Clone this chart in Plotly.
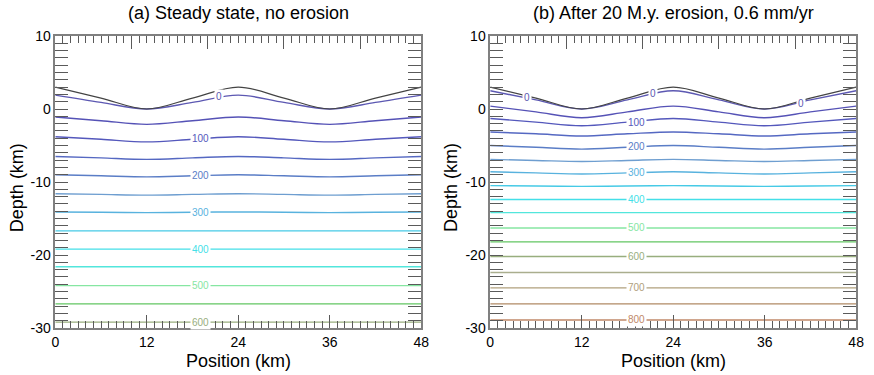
"""
Steady-state vs eroded geotherms below a sinusoidal topography.
"""

import plotly.graph_objects as go

FONT = "Liberation Sans, Arial, sans-serif"
FRAME = "#808080"
TICK = "#5a5a5a"

X_POS = [0, 6, 12, 18, 24, 30, 36, 42, 48]
SURFACE = [3.0, 1.5, 0.0, 1.5, 3.0, 1.5, 0.0, 1.5, 3.0]

Y_TICKS = [-30, -20, -10, 0, 10]
Y_TICK_TEXT = ["-30", "-20", "-10", "0", "10"]

LEVELS = [0, 50, 100, 150, 200, 250, 300, 350, 400,
          450, 500, 550, 600, 650, 700, 750, 800]
LEVEL_COLORS = [
    "#5c58b2", "#5552b6", "#5458bc", "#5568c2", "#5a7dc6", "#6e9ed0",
    "#58b2de", "#46cae6", "#44dfe8", "#52e6dc", "#86e6a2", "#62c662",
    "#98ae7e", "#aaae8e", "#b0a07c", "#b08a64", "#c08868",
]

# (a) steady state: depth (km) of each isotherm at X_POS
A_DEPTHS = [
    [1.9, 0.9, 0.0, 0.9, 1.9, 0.9, 0.0, 0.9, 1.9],
    [-1.1, -1.6, -2.1, -1.6, -1.1, -1.6, -2.1, -1.6, -1.1],
    [-3.8, -4.15, -4.5, -4.15, -3.8, -4.15, -4.5, -4.15, -3.8],
    [-6.5, -6.7, -6.9, -6.7, -6.5, -6.7, -6.9, -6.7, -6.5],
    [-9.0, -9.15, -9.3, -9.15, -9.0, -9.15, -9.3, -9.15, -9.0],
    [-11.6, -11.7, -11.8, -11.7, -11.6, -11.7, -11.8, -11.7, -11.6],
    [-14.1, -14.15, -14.2, -14.15, -14.1, -14.15, -14.2, -14.15, -14.1],
    [-16.7, -16.7, -16.7, -16.7, -16.7, -16.7, -16.7, -16.7, -16.7],
    [-19.2, -19.2, -19.2, -19.2, -19.2, -19.2, -19.2, -19.2, -19.2],
    [-21.6, -21.6, -21.6, -21.6, -21.6, -21.6, -21.6, -21.6, -21.6],
    [-24.2, -24.2, -24.2, -24.2, -24.2, -24.2, -24.2, -24.2, -24.2],
    [-26.7, -26.7, -26.7, -26.7, -26.7, -26.7, -26.7, -26.7, -26.7],
    [-29.2, -29.2, -29.2, -29.2, -29.2, -29.2, -29.2, -29.2, -29.2],
]
A_LABELS = [0, 100, 200, 300, 400, 500, 600]
A_LABEL_X = [21.5, 19.1, 19.1, 19.1, 19.1, 19.1, 19.1]
A_LABEL_Y = [1.7, -4.05, -9.15, -14.15, -19.2, -24.2, -29.2]

# (b) after 20 M.y. of erosion at 0.6 mm/yr
B_DEPTHS = [
    [2.5, 1.25, 0.0, 1.25, 2.5, 1.25, 0.0, 1.25, 2.5],
    [0.4, -0.4, -1.2, -0.4, 0.4, -0.4, -1.2, -0.4, 0.4],
    [-1.3, -1.8, -2.3, -1.8, -1.3, -1.8, -2.3, -1.8, -1.3],
    [-3.15, -3.4, -3.7, -3.4, -3.15, -3.4, -3.7, -3.4, -3.15],
    [-5.0, -5.25, -5.5, -5.25, -5.0, -5.25, -5.5, -5.25, -5.0],
    [-6.9, -7.05, -7.2, -7.05, -6.9, -7.05, -7.2, -7.05, -6.9],
    [-8.6, -8.75, -8.9, -8.75, -8.6, -8.75, -8.9, -8.75, -8.6],
    [-10.5, -10.55, -10.6, -10.55, -10.5, -10.55, -10.6, -10.55, -10.5],
    [-12.4, -12.4, -12.4, -12.4, -12.4, -12.4, -12.4, -12.4, -12.4],
    [-14.2, -14.2, -14.2, -14.2, -14.2, -14.2, -14.2, -14.2, -14.2],
    [-16.3, -16.3, -16.3, -16.3, -16.3, -16.3, -16.3, -16.3, -16.3],
    [-18.2, -18.2, -18.2, -18.2, -18.2, -18.2, -18.2, -18.2, -18.2],
    [-20.2, -20.2, -20.2, -20.2, -20.2, -20.2, -20.2, -20.2, -20.2],
    [-22.4, -22.4, -22.4, -22.4, -22.4, -22.4, -22.4, -22.4, -22.4],
    [-24.5, -24.5, -24.5, -24.5, -24.5, -24.5, -24.5, -24.5, -24.5],
    [-26.7, -26.7, -26.7, -26.7, -26.7, -26.7, -26.7, -26.7, -26.7],
    [-28.9, -28.9, -28.9, -28.9, -28.9, -28.9, -28.9, -28.9, -28.9],
]
B_LABELS = [0, 0, 0, 100, 200, 300, 400, 500, 600, 700, 800]
B_LABEL_X = [4.8, 21.4, 40.8, 19.2, 19.2, 19.2, 19.2, 19.2, 19.2, 19.2, 19.2]
B_LABEL_Y = [1.55, 2.15, 0.75, -1.85, -5.2, -8.75, -12.4, -16.3, -20.2, -24.5, -28.9]

PANELS = [
    ("x", "y", "x3", A_DEPTHS, A_LABELS, A_LABEL_X, A_LABEL_Y),
    ("x2", "y2", "x4", B_DEPTHS, B_LABELS, B_LABEL_X, B_LABEL_Y),
]

fig = go.Figure()
annotations = []

for xa, ya, xtop, depths, labels, lab_x, lab_y in PANELS:
    for i, row in enumerate(depths):
        fig.add_trace(go.Scatter(
            x=X_POS, y=row, xaxis=xa, yaxis=ya, mode="lines",
            line=dict(color=LEVEL_COLORS[i], width=1.4, shape="spline"),
            hoverinfo="skip", showlegend=False,
        ))
    # surface drawn on the top axis so that axis gets rendered
    fig.add_trace(go.Scatter(
        x=X_POS, y=SURFACE, xaxis=xtop, yaxis=ya, mode="lines",
        line=dict(color="#444444", width=1.2, shape="spline"),
        hoverinfo="skip", showlegend=False,
    ))
    for lev, lx, ly in zip(labels, lab_x, lab_y):
        annotations.append(dict(
            text=str(lev), x=lx, y=ly, xref=xa, yref=ya, showarrow=False,
            font=dict(family=FONT, size=10, color=LEVEL_COLORS[LEVELS.index(lev)]),
            bgcolor="white", borderpad=1,
        ))

# panel titles and axis titles
for xc, title in [(237.5 / 874, "(a) Steady state, no erosion"),
                  (678.5 / 874, "(b) After 20 M.y. erosion, 0.6 mm/yr")]:
    annotations.append(dict(text=title, x=xc, y=1.079, xref="paper", yref="paper",
                            showarrow=False, xanchor="center", yanchor="middle",
                            font=dict(family=FONT, size=18, color="black")))
    annotations.append(dict(text="Position (km)", x=xc, y=-0.112, xref="paper",
                            yref="paper", showarrow=False, xanchor="center",
                            yanchor="middle",
                            font=dict(family=FONT, size=18, color="black")))
for xl in [13.5 / 874, 453.5 / 874]:
    annotations.append(dict(text="Depth (km)", x=xl, y=0.48, xref="paper",
                            yref="paper", showarrow=False, textangle=-90,
                            xanchor="center", yanchor="middle",
                            font=dict(family=FONT, size=18, color="black")))

minor = dict(dtick=1, ticks="inside", ticklen=7, tickcolor=TICK, tickwidth=1,
             showgrid=False)
bottom_axis = dict(range=[0, 48], tick0=0, dtick=12, ticks="inside", ticklen=13,
                   tickcolor=TICK, tickwidth=1, showline=True, linecolor=FRAME,
                   linewidth=1.5, mirror=True, showgrid=False, zeroline=False,
                   minor=minor, tickfont=dict(family=FONT, size=14, color="black"))
top_axis = dict(range=[0, 48], tick0=0, dtick=10, ticks="inside", ticklen=13,
                tickcolor=TICK, tickwidth=1, showline=False, showgrid=False,
                zeroline=False, showticklabels=False, side="top", minor=minor)
left_axis = dict(range=[-30, 10], tickmode="array", tickvals=Y_TICKS,
                 ticktext=Y_TICK_TEXT, ticks="inside", ticklen=13,
                 tickcolor=TICK, tickwidth=1, showline=True, linecolor=FRAME,
                 linewidth=1.5, mirror="allticks", showgrid=False, zeroline=False,
                 minor=dict(minor, tick0=0),
                 tickfont=dict(family=FONT, size=14, color="black"))

fig.update_layout(
    width=874, height=375,
    margin=dict(l=0, r=0, t=36, b=47),
    paper_bgcolor="white", plot_bgcolor="white",
    font=dict(family=FONT),
    showlegend=False,
    xaxis=dict(bottom_axis, domain=[52 / 874, 423 / 874], anchor="y"),
    yaxis=dict(left_axis, domain=[0, 1], anchor="x"),
    xaxis2=dict(bottom_axis, domain=[493 / 874, 864 / 874], anchor="y2"),
    yaxis2=dict(left_axis, domain=[0, 1], anchor="x2"),
    xaxis3=dict(top_axis, overlaying="x", anchor="y"),
    xaxis4=dict(top_axis, overlaying="x2", anchor="y2"),
    annotations=annotations,
)

fig.write_html(
    "out.html",
    config={"displayModeBar": False},
    post_script="document.body.style.margin='0';document.body.style.overflow='hidden';",
)
